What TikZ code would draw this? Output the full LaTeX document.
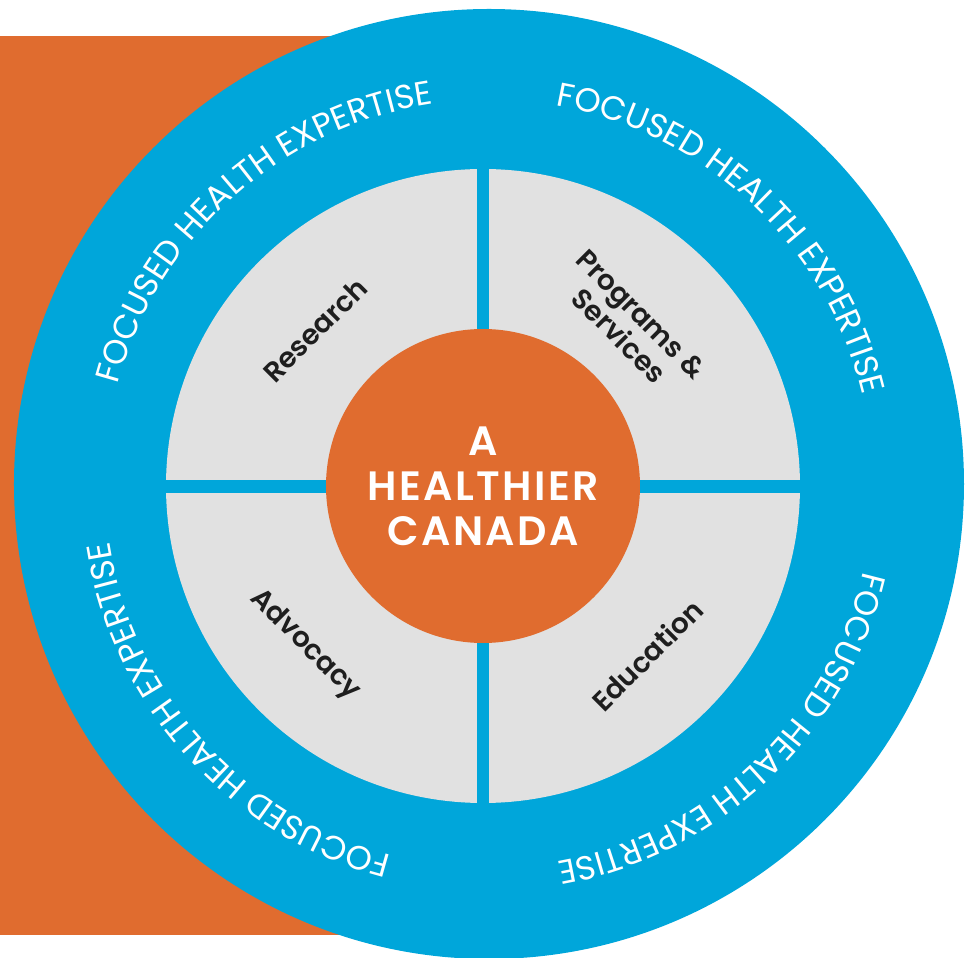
\documentclass[tikz,border=0pt]{standalone}
\usepackage{fontspec}
\setmainfont{Poppins}
\newfontfamily\pillarfont{Poppins SemiBold}
\newfontfamily\corefont{Poppins SemiBold}[LetterSpace=6]
\newfontfamily\ringfont{Poppins}
\usepackage{tikz}
\usetikzlibrary{decorations.text}
\definecolor{RingBlue}{HTML}{00A6DA}
\definecolor{CoreOrange}{HTML}{E06C2F}
\definecolor{PillarGray}{HTML}{E1E1E1}
\definecolor{LabelInk}{HTML}{1E1E1E}
\tikzset{
  % Node styles
  corenode/.style={circle, fill=CoreOrange, minimum size=314pt, inner sep=0pt, text=white, font=\corefont\fontsize{41}{45}\selectfont, align=center},
  pillarlabel/.style={text=LabelInk, font=\pillarfont\fontsize{28}{31}\selectfont, align=center, inner sep=0pt},
  % Ring text style
  ringtext/.style={decorate, decoration={text along path, text align=center, text color=white, text={|\ringfont\fontsize{33.5}{33.5}\selectfont|FOCUSED HEALTH EXPERTISE}}}
}

\begin{document}
\begin{tikzpicture}[x=1pt, y=1pt]
  \useasboundingbox (-483,486) rectangle (487,-472);

  % Backdrop and outer ring
  \fill[CoreOrange] (-483,450) rectangle (6,-449);
  \fill[RingBlue] (6,2) circle (475);

  % Pillars
  \fill[PillarGray] (0,0) circle (317);
  \fill[RingBlue] (-6,-320) rectangle (6,320);
  \fill[RingBlue] (-320,-7) rectangle (320,6);

  % Core
  \node[corenode] (core) at (0,0) {A\\HEALTHIER\\CANADA};

  % Pillar labels
  \node[pillarlabel, rotate=45] (research) at (-168,156) {Research};
  \node[pillarlabel, rotate=-45] (programs) at (147,161) {Programs \&\\Services};
  \node[pillarlabel, rotate=-45] (advocacy) at (-178,-159) {Advocacy};
  \node[pillarlabel, rotate=45] (education) at (164,-169) {Education};

  % Ring text
  \foreach \ang in {131.7, 46.7, -46.5, -138}
    \path[ringtext] (6,2) ++(\ang+45:384) arc[start angle=\ang+45, end angle=\ang-45, radius=384];
\end{tikzpicture}
\end{document}
